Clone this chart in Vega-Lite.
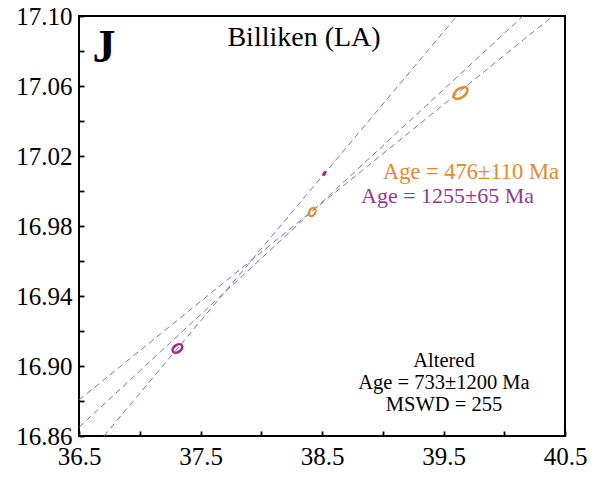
{
  "$schema": "https://vega.github.io/schema/vega-lite/v6.json",
  "autosize": {"type": "none"},
  "padding": {"left": 79, "top": 16, "right": 37, "bottom": 41},
  "width": 486,
  "height": 420,
  "background": "white",
  "config": {
    "view": {"stroke": "black", "strokeWidth": 2},
    "font": "Liberation Serif",
    "axis": {
      "grid": false,
      "domain": false,
      "title": null,
      "labelFont": "Liberation Serif",
      "labelFontSize": 25,
      "labelColor": "black",
      "tickColor": "black",
      "tickWidth": 1.8
    }
  },
  "resolve": {"axis": {"x": "independent", "y": "independent"}},
  "datasets": {
    "lines": [
      {"fit": "purple", "x": 36.705, "y": 16.86},
      {"fit": "purple", "x": 39.61, "y": 17.10},
      {"fit": "orange", "x": 36.5, "y": 16.8806},
      {"fit": "orange", "x": 40.40, "y": 17.10},
      {"fit": "altered", "x": 36.5, "y": 16.865},
      {"fit": "altered", "x": 40.154, "y": 17.10}
    ],
    "points": [
      {"grain": "P1", "x": 37.31, "y": 16.910},
      {"grain": "P2", "x": 38.52, "y": 17.010},
      {"grain": "O1", "x": 38.42, "y": 16.988},
      {"grain": "O2", "x": 39.64, "y": 17.056}
    ],
    "labels": [
      {"group": "panel", "text": "J", "x": 36.706, "y": 17.0737},
      {"group": "title", "text": "Billiken (LA)", "x": 38.352, "y": 17.0829},
      {"group": "orange", "text": "Age = 476±110 Ma", "x": 39.726, "y": 17.0069},
      {"group": "purple", "text": "Age = 1255±65 Ma", "x": 39.533, "y": 16.9931},
      {"group": "altered", "text": "Altered", "x": 39.504, "y": 16.8994},
      {"group": "altered", "text": "Age = 733±1200 Ma", "x": 39.504, "y": 16.8869},
      {"group": "altered", "text": "MSWD = 255", "x": 39.504, "y": 16.8743}
    ]
  },
  "layer": [
    {
      "data": {"name": "lines"},
      "mark": {"type": "line", "color": "#5d64c6", "strokeWidth": 0.9, "strokeDash": [6, 4], "clip": true},
      "encoding": {
        "x": {
          "field": "x", "type": "quantitative",
          "scale": {"domain": [36.5, 40.5], "nice": false, "zero": false},
          "axis": {
            "orient": "bottom",
            "ticks": false,
            "values": [36.5, 37.5, 38.5, 39.5, 40.5],
            "format": ".1f",
            "labelPadding": 8,
            "labelFlush": false
          }
        },
        "y": {
          "field": "y", "type": "quantitative",
          "scale": {"domain": [16.86, 17.10], "nice": false, "zero": false},
          "axis": {
            "orient": "left",
            "ticks": false,
            "values": [16.86, 16.90, 16.94, 16.98, 17.02, 17.06, 17.10],
            "format": ".2f",
            "labelPadding": 7,
            "labelFlush": false
          }
        },
        "detail": {"field": "fit", "type": "nominal"}
      }
    },
    {
      "data": {"name": "points"},
      "transform": [{"filter": "datum.grain == 'P1'"}],
      "mark": {"type": "point", "shape": "M -0.819 0.574 A 1 0.64 -35 0 1 0.819 -0.574 A 1 0.64 -35 0 1 -0.819 0.574 Z", "size": 121, "filled": false, "stroke": "#9b2f85", "strokeWidth": 2.5, "opacity": 1},
      "encoding": {
        "x": {
          "field": "x", "type": "quantitative",
          "axis": {
            "orient": "top", "offset": -420, "labels": false, "domain": false,
            "ticks": true, "tickSize": 5,
            "values": [36.5, 37, 37.5, 38, 38.5, 39, 39.5, 40, 40.5]
          }
        },
        "y": {
          "field": "y", "type": "quantitative",
          "axis": {
            "orient": "right", "offset": -486, "labels": false, "domain": false,
            "ticks": true, "tickSize": 5,
            "values": [16.86, 16.88, 16.90, 16.92, 16.94, 16.96, 16.98, 17.00, 17.02, 17.04, 17.06, 17.08, 17.10]
          }
        }
      }
    },
    {
      "data": {"name": "points"},
      "transform": [{"filter": "datum.grain == 'P2'"}],
      "mark": {"type": "point", "shape": "M -0.5 0.866 A 1 0.6 -60 0 1 0.5 -0.866 A 1 0.6 -60 0 1 -0.5 0.866 Z", "size": 36, "filled": true, "fill": "#9b2f85", "opacity": 1},
      "encoding": {
        "x": {"field": "x", "type": "quantitative", "axis": null},
        "y": {"field": "y", "type": "quantitative", "axis": null}
      }
    },
    {
      "data": {"name": "points"},
      "transform": [{"filter": "datum.grain == 'O1'"}],
      "mark": {"type": "point", "shape": "M -0.5 0.866 A 1 0.65 -60 0 1 0.5 -0.866 A 1 0.65 -60 0 1 -0.5 0.866 Z", "size": 81, "filled": false, "stroke": "#e8892a", "strokeWidth": 2.2, "opacity": 1},
      "encoding": {
        "x": {"field": "x", "type": "quantitative", "axis": null},
        "y": {"field": "y", "type": "quantitative", "axis": null}
      }
    },
    {
      "data": {"name": "points"},
      "transform": [{"filter": "datum.grain == 'O2'"}],
      "mark": {"type": "point", "shape": "M -0.819 0.574 A 1 0.56 -35 0 1 0.819 -0.574 A 1 0.56 -35 0 1 -0.819 0.574 Z", "size": 256, "filled": false, "stroke": "#e8892a", "strokeWidth": 2.5, "opacity": 1},
      "encoding": {
        "x": {"field": "x", "type": "quantitative", "axis": null},
        "y": {"field": "y", "type": "quantitative", "axis": null}
      }
    },
    {
      "data": {"name": "labels"},
      "transform": [{"filter": "datum.group == 'panel'"}],
      "mark": {"type": "text", "font": "Liberation Serif", "fontWeight": "bold", "fontSize": 46, "align": "center", "baseline": "alphabetic", "color": "black"},
      "encoding": {
        "x": {"field": "x", "type": "quantitative", "axis": null},
        "y": {"field": "y", "type": "quantitative", "axis": null},
        "text": {"field": "text"}
      }
    },
    {
      "data": {"name": "labels"},
      "transform": [{"filter": "datum.group == 'title'"}],
      "mark": {"type": "text", "font": "Liberation Serif", "fontSize": 28, "align": "center", "baseline": "alphabetic", "color": "black"},
      "encoding": {
        "x": {"field": "x", "type": "quantitative", "axis": null},
        "y": {"field": "y", "type": "quantitative", "axis": null},
        "text": {"field": "text"}
      }
    },
    {
      "data": {"name": "labels"},
      "transform": [{"filter": "datum.group == 'orange'"}],
      "mark": {"type": "text", "font": "Liberation Serif", "fontSize": 22.5, "align": "center", "baseline": "alphabetic", "color": "#e5892b"},
      "encoding": {
        "x": {"field": "x", "type": "quantitative", "axis": null},
        "y": {"field": "y", "type": "quantitative", "axis": null},
        "text": {"field": "text"}
      }
    },
    {
      "data": {"name": "labels"},
      "transform": [{"filter": "datum.group == 'purple'"}],
      "mark": {"type": "text", "font": "Liberation Serif", "fontSize": 22, "align": "center", "baseline": "alphabetic", "color": "#93398b"},
      "encoding": {
        "x": {"field": "x", "type": "quantitative", "axis": null},
        "y": {"field": "y", "type": "quantitative", "axis": null},
        "text": {"field": "text"}
      }
    },
    {
      "data": {"name": "labels"},
      "transform": [{"filter": "datum.group == 'altered'"}],
      "mark": {"type": "text", "font": "Liberation Serif", "fontSize": 20.5, "align": "center", "baseline": "alphabetic", "color": "black"},
      "encoding": {
        "x": {"field": "x", "type": "quantitative", "axis": null},
        "y": {"field": "y", "type": "quantitative", "axis": null},
        "text": {"field": "text"}
      }
    }
  ]
}
